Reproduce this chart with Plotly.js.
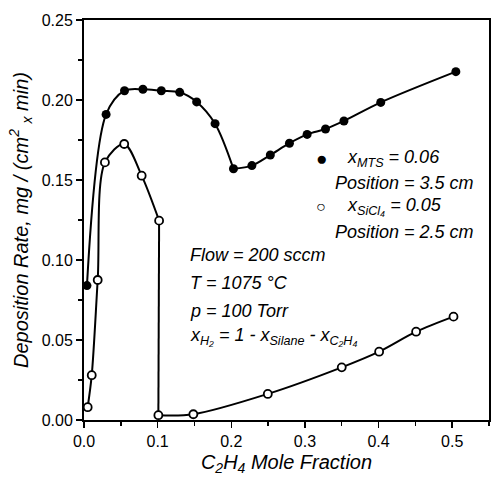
<!DOCTYPE html>
<html>
<head>
<meta charset="utf-8">
<script src="https://cdn.plot.ly/plotly-3.0.1.min.js"></script>
<style>html,body{margin:0;padding:0;background:#fff;}</style>
</head>
<body>
<div id="chart" style="width:491px;height:480px;"></div>
<script>
// Filled circles: x_MTS = 0.06, Position = 3.5 cm
const mtsX = [0.004, 0.03, 0.055, 0.08, 0.105, 0.13, 0.153, 0.178, 0.203, 0.228, 0.253, 0.279, 0.303, 0.328, 0.353, 0.403, 0.505];
const mtsY = [0.084, 0.191, 0.2058, 0.2067, 0.2058, 0.2048, 0.1988, 0.1852, 0.157, 0.159, 0.1656, 0.173, 0.1785, 0.1819, 0.1869, 0.1985, 0.2177];

// Open circles: x_SiCl4 = 0.05, Position = 2.5 cm
const sicl4X = [0.005, 0.0105, 0.0186, 0.0284, 0.0546, 0.0783, 0.102, 0.101, 0.1485, 0.2496, 0.350, 0.4008, 0.451, 0.5018];
const sicl4Y = [0.008, 0.028, 0.0875, 0.161, 0.1725, 0.1527, 0.1246, 0.003, 0.0036, 0.0163, 0.0329, 0.0427, 0.0552, 0.0646];

const xTickVals = [0.0, 0.1, 0.2, 0.3, 0.4, 0.5];
const xTickText = ["0.0", "0.1", "0.2", "0.3", "0.4", "0.5"];
const yTickVals = [0.00, 0.05, 0.10, 0.15, 0.20, 0.25];
const yTickText = ["0.00", "0.05", "0.10", "0.15", "0.20", "0.25"];

const legendLines = [
  {text: "●", x: 0.323, y: 0.1636, size: 19},
  {text: "x<sub>MTS</sub> = 0.06", x: 0.3546, y: 0.1636},
  {text: "Position = 3.5 cm", x: 0.338, y: 0.148},
  {text: "○", x: 0.322, y: 0.1333, size: 16},
  {text: "x<sub>SiCl₄</sub> = 0.05", x: 0.3546, y: 0.1333},
  {text: "Position = 2.5 cm", x: 0.338, y: 0.1177}
];
const conditionLines = [
  {text: "Flow = 200 sccm", x: 0.141, y: 0.1031},
  {text: "T = 1075 °C", x: 0.141, y: 0.0856},
  {text: "p = 100 Torr", x: 0.141, y: 0.0681},
  {text: "x<sub>H₂</sub> = 1 - x<sub>Silane</sub> - x<sub>C₂H₄</sub>", x: 0.141, y: 0.0519}
];

const FONT = "Liberation Sans, Arial, Helvetica, sans-serif";

function seg(xs, ys, a, b, shape) {
  return {
    x: xs.slice(a, b), y: ys.slice(a, b), mode: "lines", type: "scatter",
    line: {color: "black", width: 2, shape: shape, smoothing: 0.9},
    cliponaxis: false, showlegend: false, hoverinfo: "skip"
  };
}

const traces = [
  // MTS curve: smooth hump, then the rising branch after the minimum
  seg(mtsX, mtsY, 0, 9, "spline"),
  seg(mtsX, mtsY, 8, mtsX.length, "spline"),
  // SiCl4 curve: smooth peak, vertical drop, smooth rise
  seg(sicl4X, sicl4Y, 0, 7, "spline"),
  seg(sicl4X, sicl4Y, 6, 8, "linear"),
  seg(sicl4X, sicl4Y, 7, sicl4X.length, "spline"),
  {
    x: mtsX, y: mtsY, mode: "markers", type: "scatter",
    marker: {symbol: "circle", size: 9, color: "black"},
    cliponaxis: false, showlegend: false
  },
  {
    x: sicl4X, y: sicl4Y, mode: "markers", type: "scatter",
    marker: {symbol: "circle", size: 8, color: "white", line: {color: "black", width: 1.8}},
    cliponaxis: false, showlegend: false
  }
];

const annotations = [];
legendLines.concat(conditionLines).forEach(function(a){
  annotations.push({
    x: a.x, y: a.y, xref: "x", yref: "y", text: a.text,
    showarrow: false, xanchor: a.size ? "center" : "left", yanchor: "middle",
    font: {family: FONT, size: a.size || 18, color: "black", style: a.size ? "normal" : "italic"}
  });
});

const layout = {
  width: 491, height: 480,
  margin: {l: 84, r: 2, t: 20, b: 60},
  paper_bgcolor: "white", plot_bgcolor: "white",
  font: {family: FONT, color: "black"},
  showlegend: false,
  xaxis: {
    range: [0, 0.55], tickvals: xTickVals, ticktext: xTickText,
    ticks: "outside", ticklen: 6, tickwidth: 1.5, tickcolor: "black",
    minor: {dtick: 0.05, tick0: 0, ticks: "outside", ticklen: 4, tickwidth: 1.5, tickcolor: "black"},
    showline: true, linecolor: "black", linewidth: 2, mirror: true,
    showgrid: false, zeroline: false,
    tickfont: {family: FONT, size: 16, color: "black"},
    title: {text: "C<sub>2</sub>H<sub>4</sub> Mole Fraction", font: {family: FONT, size: 20, style: "italic", color: "black"}, standoff: 6}
  },
  yaxis: {
    range: [0, 0.25], tickvals: yTickVals, ticktext: yTickText,
    ticks: "outside", ticklen: 6, tickwidth: 1.5, tickcolor: "black",
    minor: {dtick: 0.025, tick0: 0, ticks: "outside", ticklen: 4, tickwidth: 1.5, tickcolor: "black"},
    showline: true, linecolor: "black", linewidth: 2, mirror: true,
    showgrid: false, zeroline: false,
    tickfont: {family: FONT, size: 16, color: "black"},
    title: {text: "Deposition Rate, mg / (cm<sup>2</sup> <sub>x</sub> min)", font: {family: FONT, size: 20, style: "italic", color: "black"}, standoff: 8}
  },
  annotations: annotations
};

Plotly.newPlot("chart", traces, layout, {displayModeBar: false, staticPlot: true});
</script>
</body>
</html>
